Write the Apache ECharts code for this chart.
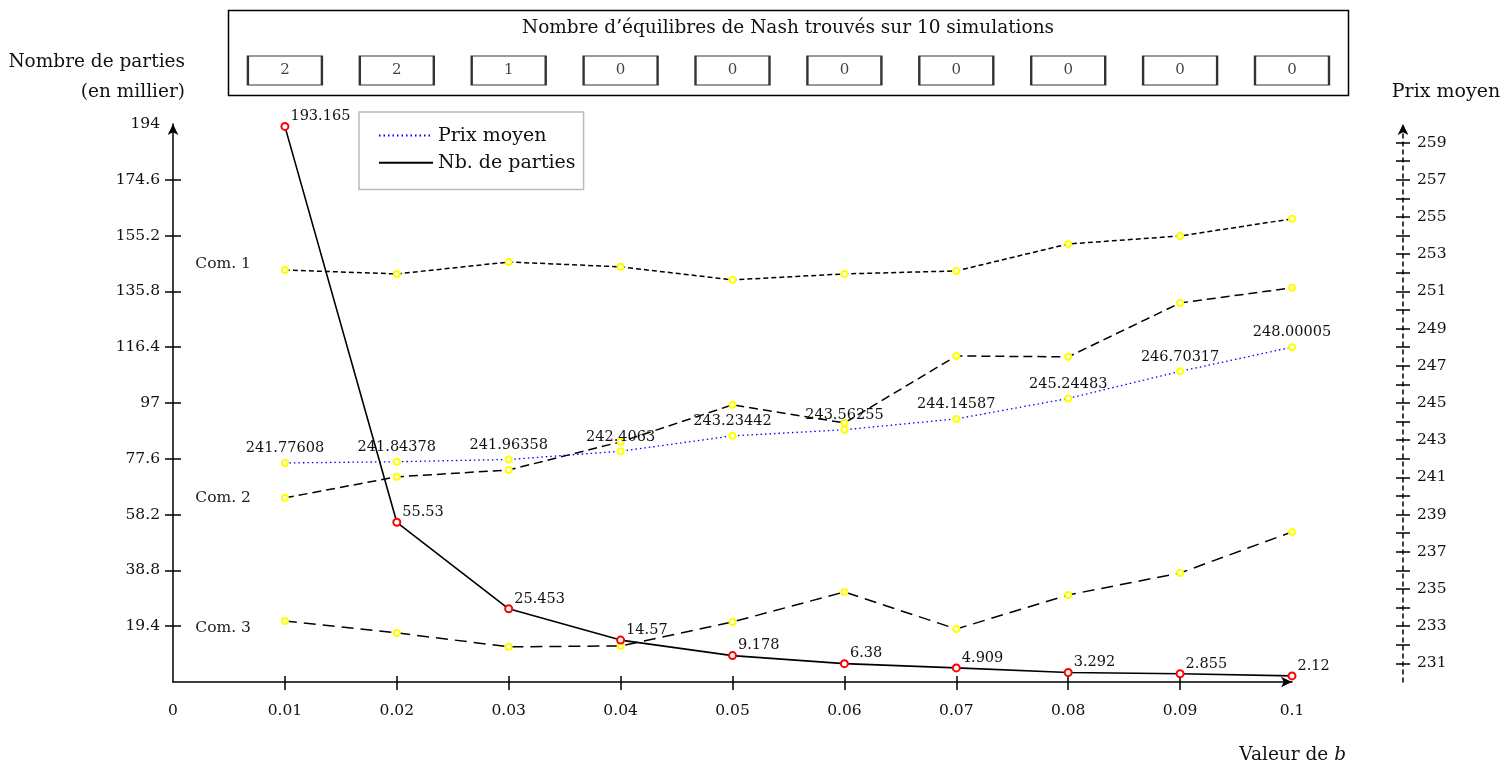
<!DOCTYPE html>
<html><head><meta charset="utf-8">
<script src="https://cdn.jsdelivr.net/npm/echarts@6/dist/echarts.min.js"></script>
<style>html,body{margin:0;padding:0;background:#fff}#c{width:1502px;height:765px}</style>
</head><body><div id="c"></div>
<script>
// ---- data ----
const bValues = [0.01, 0.02, 0.03, 0.04, 0.05, 0.06, 0.07, 0.08, 0.09, 0.1];
const nbParties = [193.165, 55.53, 25.453, 14.57, 9.178, 6.38, 4.909, 3.292, 2.855, 2.12];
const prixMoyen = [241.77608, 241.84378, 241.96358, 242.4063, 243.23442, 243.56255, 244.14587, 245.24483, 246.70317, 248.00005];
const com1 = [252.15, 251.94, 252.58, 252.32, 251.62, 251.94, 252.10, 253.55, 253.98, 254.90];
const com2 = [239.90, 241.03, 241.40, 242.91, 244.90, 243.93, 247.53, 247.48, 250.38, 251.19];
const com3 = [233.28, 232.64, 231.89, 231.94, 233.23, 234.84, 232.85, 234.68, 235.86, 238.07];
const equilibres = [2, 2, 1, 0, 0, 0, 0, 0, 0, 0];
const xTickLabels = [0, 0.01, 0.02, 0.03, 0.04, 0.05, 0.06, 0.07, 0.08, 0.09, 0.1];
const leftTickLabels = [19.4, 38.8, 58.2, 77.6, 97, 116.4, 135.8, 155.2, 174.6, 194];
const rightTickLabels = [231, 233, 235, 237, 239, 241, 243, 245, 247, 249, 251, 253, 255, 257, 259];
const rightTicks = [231, 232, 233, 234, 235, 236, 237, 238, 239, 240, 241, 242, 243, 244, 245, 246, 247, 248, 249, 250, 251, 252, 253, 254, 255, 256, 257, 258, 259];
const comNames = ['Com. 1', 'Com. 2', 'Com. 3'];

const FONT = 'DejaVu Serif';
const chart = echarts.init(document.getElementById('c'), null, {renderer: 'canvas'});
const blackLine = {color: '#000', width: 1.5};
const fmtNum = v => String(+(+v).toFixed(2));

function comSeries(name, vals, dash, labOffY) {
  return {
    name, type: 'line', xAxisIndex: 0, yAxisIndex: 1,
    data: bValues.map((b, i) => {
      const item = {value: [b, vals[i]]};
      if (i === 0) item.label = {show: true, position: 'left', distance: 30, offset: [0, labOffY],
        formatter: name, fontFamily: FONT, fontSize: 15.5, color: '#222'};
      return item;
    }),
    symbol: 'emptyCircle', symbolSize: 6,
    itemStyle: {color: '#ffff00', borderColor: '#ffff00', borderWidth: 1.5},
    lineStyle: {color: '#000', width: 1.5, type: dash},
    label: {show: false}, z: 2, silent: true
  };
}

chart.setOption({
  animation: false,
  backgroundColor: '#fff',
  textStyle: {fontFamily: FONT},
  grid: [
    {left: 173, right: 210, top: 124, bottom: 83},
    {left: 173, right: 210, top: 56, height: 29}
  ],
  legend: {
    left: 359, top: 112, orient: 'vertical',
    padding: [13, 8, 16, 19], itemGap: 6,
    itemWidth: 54, itemHeight: 24,
    borderColor: '#bbbbbb', borderWidth: 1.5, backgroundColor: '#fff',
    itemStyle: {opacity: 0},
    textStyle: {fontFamily: FONT, fontSize: 19, color: '#111'},
    data: ['Prix moyen', 'Nb. de parties']
  },
  xAxis: [
    {gridIndex: 0, type: 'value', position: 'bottom', min: 0, max: 0.1, interval: 0.01,
     axisLine: {show: true, onZero: false, lineStyle: blackLine, symbol: ['none', 'arrow'], symbolSize: [8, 11]},
     axisTick: {show: true, length: 8, customValues: bValues.slice(0, 9), lineStyle: blackLine},
     axisLabel: {customValues: xTickLabels, margin: 21, fontFamily: FONT, fontSize: 15.5, color: '#111', formatter: fmtNum},
     splitLine: {show: false}},
    {gridIndex: 0, type: 'value', position: 'bottom', min: 0, max: 0.1, interval: 0.01,
     axisLine: {show: false, onZero: false},
     axisTick: {show: true, inside: true, length: 6, customValues: bValues.slice(0, 9), lineStyle: blackLine},
     axisLabel: {show: false}, splitLine: {show: false}},
    {gridIndex: 1, type: 'value', min: 0, max: 0.1, show: false}
  ],
  yAxis: [
    {gridIndex: 0, type: 'value', position: 'left', min: 0, max: 194, interval: 19.4,
     axisLine: {show: true, onZero: false, lineStyle: blackLine, symbol: ['none', 'arrow'], symbolSize: [8, 11]},
     axisTick: {show: true, length: 8, customValues: leftTickLabels.slice(0, 9), lineStyle: blackLine},
     axisLabel: {customValues: leftTickLabels, margin: 13, fontFamily: FONT, fontSize: 15.5, color: '#111', formatter: fmtNum},
     splitLine: {show: false}},
    {gridIndex: 0, type: 'value', position: 'right', offset: 111, min: 230, max: 260, interval: 1,
     axisLine: {show: true, onZero: false, lineStyle: {color: '#000', width: 1.5, type: [4, 4]}, symbol: ['none', 'arrow'], symbolSize: [8, 11]},
     axisTick: {show: true, length: 7, customValues: rightTicks, lineStyle: blackLine},
     axisLabel: {customValues: rightTickLabels, margin: 14, fontFamily: FONT, fontSize: 15.5, color: '#111'},
     splitLine: {show: false}},
    {gridIndex: 0, type: 'value', position: 'left', min: 0, max: 194, interval: 19.4,
     axisLine: {show: false, onZero: false},
     axisTick: {show: true, inside: true, length: 8, customValues: leftTickLabels.slice(0, 9), lineStyle: blackLine},
     axisLabel: {show: false}, splitLine: {show: false}},
    {gridIndex: 0, type: 'value', position: 'right', offset: 111, min: 230, max: 260, interval: 1,
     axisLine: {show: false, onZero: false},
     axisTick: {show: true, inside: true, length: 7, customValues: rightTicks, lineStyle: blackLine},
     axisLabel: {show: false}, splitLine: {show: false}},
    {gridIndex: 1, type: 'value', min: -1, max: 1, show: false}
  ],
  series: [
    comSeries(comNames[0], com1, [5, 3], -6),
    comSeries(comNames[1], com2, [9, 5], 0),
    comSeries(comNames[2], com3, [12, 7], 7),
    {
      name: 'Prix moyen', type: 'line', xAxisIndex: 0, yAxisIndex: 1,
      data: bValues.map((b, i) => [b, prixMoyen[i]]),
      symbol: 'emptyCircle', symbolSize: 6,
      itemStyle: {color: '#ffff00', borderColor: '#ffff00', borderWidth: 1.5},
      lineStyle: {color: '#0000ff', width: 1.3, type: [1.5, 3]},
      label: {show: true, position: 'top', distance: 3, fontFamily: FONT, fontSize: 14.5, color: '#111',
              formatter: p => String(p.value[1])},
      z: 3
    },
    {
      name: 'Nb. de parties', type: 'line', xAxisIndex: 0, yAxisIndex: 0,
      data: bValues.map((b, i) => [b, nbParties[i]]),
      symbol: 'emptyCircle', symbolSize: 7,
      itemStyle: {color: '#ff0000', borderColor: '#ff0000', borderWidth: 1.5},
      lineStyle: {color: '#000', width: 1.6},
      label: {show: true, position: 'right', distance: 1, offset: [0, -10], fontFamily: FONT, fontSize: 14.5, color: '#111',
              formatter: p => String(p.value[1])},
      z: 4
    },
    {
      name: 'equilibres', type: 'scatter', xAxisIndex: 2, yAxisIndex: 4,
      data: bValues.map((b, i) => [b, 0, equilibres[i]]),
      symbol: 'rect', symbolSize: [74, 29],
      itemStyle: {color: '#fff', borderColor: '#000', borderWidth: 1.5},
      label: {show: true, position: 'inside', formatter: p => String(p.value[2]), fontFamily: FONT, fontSize: 15, color: '#111'},
      silent: true, z: 5
    }
  ],
  graphic: [
    {type: 'rect', shape: {x: 228.5, y: 10.5, width: 1120, height: 85}, style: {fill: 'none', stroke: '#000', lineWidth: 1.5}, z: 1},
    {type: 'text', x: 788, y: 28, style: {text: 'Nombre d’équilibres de Nash trouvés sur 10 simulations', fontFamily: FONT, fontSize: 18.5, fill: '#111', align: 'center', verticalAlign: 'middle'}},
    {type: 'text', x: 185, y: 62, style: {text: 'Nombre de parties', fontFamily: FONT, fontSize: 18.5, fill: '#111', align: 'right', verticalAlign: 'middle'}},
    {type: 'text', x: 185, y: 92, style: {text: '(en millier)', fontFamily: FONT, fontSize: 18.5, fill: '#111', align: 'right', verticalAlign: 'middle'}},
    {type: 'text', x: 1446, y: 92, style: {text: 'Prix moyen', fontFamily: FONT, fontSize: 19, fill: '#111', align: 'center', verticalAlign: 'middle'}},
    {type: 'text', x: 1346, y: 755, style: {text: '{a|Valeur de }{b|b}', align: 'right', verticalAlign: 'middle',
      rich: {a: {fontFamily: FONT, fontSize: 18.5, fill: '#111'}, b: {fontFamily: FONT, fontSize: 18.5, fontStyle: 'italic', fill: '#111'}}}}
  ]
});
</script>
</body></html>
